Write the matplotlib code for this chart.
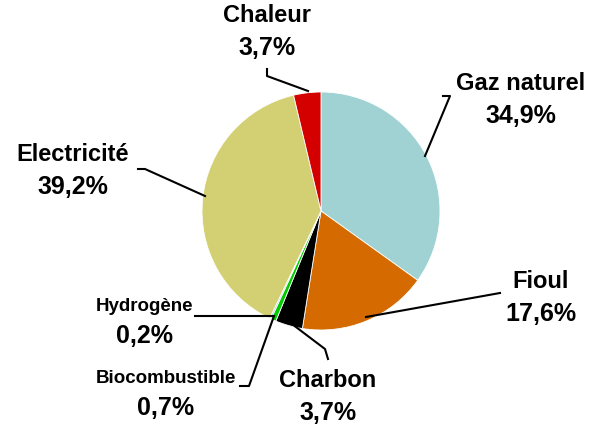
import matplotlib.pyplot as plt

plt.rcParams['font.family'] = ['Liberation Sans', 'DejaVu Sans']

labels = ['Gaz naturel', 'Fioul', 'Charbon', 'Biocombustible', 'Hydrogène', 'Electricité', 'Chaleur']
values = [34.9, 17.6, 3.7, 0.7, 0.2, 39.2, 3.7]
colors = ['#A0D2D3', '#D46A00', '#000000', '#00CC00', '#9999FF', '#D2D072', '#D40000']

# label positions (px, from top-left), font sizes, and leader lines
text_pos = [(521, 99), (541, 297), (328, 396), (166, 391), (144, 319), (73, 170), (267, 31)]
name_size = [17, 17, 17, 13.5, 13.5, 17, 17]
leaders = [
    [(425, 157), (450, 97), (443, 97)],
    [(366, 318), (500, 294)],
    [(288, 322), (325, 350), (328, 360)],
    [(274, 317), (249, 387), (240, 387)],
    [(273, 317), (195, 317)],
    [(205, 197), (145, 170), (138, 170)],
    [(308, 92), (267, 77), (267, 70)],
]

W, H = 594, 427
fig = plt.figure(figsize=(W / 100, H / 100), dpi=100)
ax = fig.add_axes([0, 0, 1, 1])

ax.pie(values, colors=colors, startangle=90, counterclock=False,
       center=(321, H - 212), radius=119,
       wedgeprops=dict(edgecolor='white', linewidth=0.6))
ax.set_xlim(0, W)
ax.set_ylim(0, H)
ax.set_aspect('equal')
ax.axis('off')

for lab, v, (x, y), fs, pts in zip(labels, values, text_pos, name_size, leaders):
    ax.text(x, H - y + 4, lab, ha='center', va='bottom', fontsize=fs, fontweight='bold')
    ax.text(x, H - y - 5, f'{v:.1f}%'.replace('.', ','), ha='center', va='top',
            fontsize=18, fontweight='bold')
    xs = [p[0] for p in pts]
    ys = [H - p[1] for p in pts]
    ax.plot(xs, ys, color='black', lw=1.5)

plt.savefig('out.png', dpi=100)
